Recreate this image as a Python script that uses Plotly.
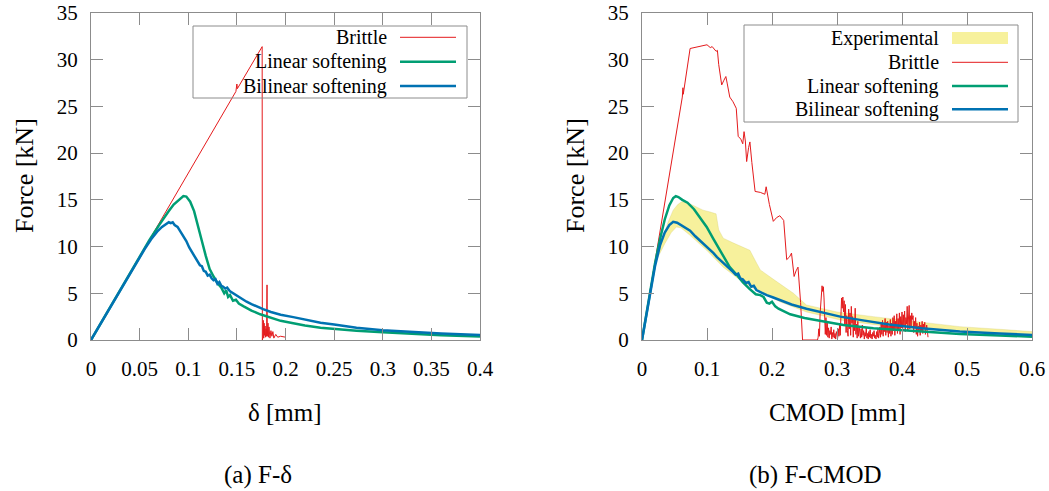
import plotly.graph_objects as go

# ---------------- data: (a) F-delta ----------------
delta_brittle = [0, 0.149, 0.150, 0.1505, 0.176, 0.1762, 0.1764, 0.1768, 0.1772, 0.1776, 0.178, 0.1785,
                 0.179, 0.1795, 0.180, 0.1805, 0.181, 0.1813, 0.182, 0.1825, 0.183, 0.184, 0.185, 0.186,
                 0.187, 0.188, 0.190, 0.192, 0.195, 0.200]
force_brittle_a = [0, 26.6, 27.4, 26.9, 31.4, 0.0, 2.6, 0.3, 2.1, 0.2, 1.8, 0.5,
                   1.5, 0.3, 1.2, 0.4, 5.9, 0.4, 1.8, 0.3, 1.4, 0.2, 1.0, 0.4,
                   0.9, 0.2, 0.6, 0.3, 0.4, 0.3]

delta_linear = [0, 0.06, 0.07, 0.075, 0.08, 0.085, 0.09, 0.095, 0.098, 0.102, 0.106, 0.11, 0.114,
                0.118, 0.122, 0.126, 0.13, 0.134, 0.137, 0.139, 0.141, 0.143, 0.146, 0.149, 0.152,
                0.157, 0.165, 0.174, 0.185, 0.195, 0.208, 0.22, 0.236, 0.25, 0.273, 0.3, 0.33, 0.36, 0.4]
force_linear_a = [0, 10.68, 12.3, 13.1, 13.8, 14.5, 15.0, 15.4, 15.35, 14.8, 13.8, 12.3, 10.6,
                  9.0, 7.6, 6.8, 6.1, 5.6, 5.0, 5.3, 4.6, 4.8, 4.2, 4.3, 3.9,
                  3.6, 3.15, 2.75, 2.35, 2.05, 1.8, 1.55, 1.3, 1.17, 1.0, 0.82, 0.66, 0.52, 0.38]

delta_bilinear = [0, 0.02, 0.04, 0.055, 0.062, 0.068, 0.073, 0.077, 0.080, 0.082, 0.084, 0.086, 0.089,
                  0.092, 0.095, 0.098, 0.101, 0.104, 0.107, 0.110, 0.112, 0.114, 0.116, 0.118, 0.120,
                  0.122, 0.124, 0.126, 0.128, 0.130, 0.132, 0.134, 0.136, 0.138, 0.140, 0.143, 0.146,
                  0.150, 0.155, 0.160, 0.165, 0.170, 0.177, 0.185, 0.195, 0.208, 0.22, 0.236, 0.25,
                  0.273, 0.3, 0.33, 0.36, 0.4]
force_bilinear_a = [0, 3.56, 7.12, 9.7, 10.8, 11.6, 12.1, 12.4, 12.6, 12.5, 12.6, 12.3, 12.1,
                    11.6, 11.1, 10.6, 9.9, 9.4, 8.8, 8.4, 8.0, 7.9, 7.4, 7.3, 6.9,
                    7.0, 6.6, 6.4, 6.5, 6.0, 6.2, 5.8, 5.7, 5.5, 5.6, 5.2, 5.0,
                    4.7, 4.4, 4.1, 3.85, 3.6, 3.3, 3.0, 2.7, 2.45, 2.2, 1.85, 1.65,
                    1.3, 1.05, 0.85, 0.7, 0.53]

# ---------------- data: (b) F-CMOD ----------------
cmod_exp_upper = [0.0226, 0.03, 0.04, 0.048, 0.055, 0.061, 0.07, 0.079, 0.094, 0.105, 0.114, 0.118,
                  0.125, 0.14, 0.155, 0.166, 0.175, 0.182, 0.2, 0.233, 0.253, 0.3, 0.356, 0.42,
                  0.489, 0.55, 0.6]
force_exp_upper = [8.6, 10.5, 12.6, 13.9, 14.5, 14.8, 14.7, 14.4, 13.9, 13.7, 13.5, 11.8,
                   10.9, 10.4, 9.9, 9.6, 8.4, 7.5, 6.6, 5.0, 3.75, 3.0, 2.5, 1.95,
                   1.43, 1.15, 0.9]
cmod_exp_lower = [0.0226, 0.035, 0.045, 0.053, 0.06, 0.074, 0.0995, 0.125, 0.151, 0.176, 0.212,
                  0.253, 0.305, 0.38, 0.489, 0.6]
force_exp_lower = [8.6, 10.3, 11.5, 12.1, 12.0, 11.2, 9.6, 7.8, 6.4, 5.35, 4.1,
                   3.0, 2.14, 1.43, 0.9, 0.53]

# brittle: peak and descending part
cmod_brittle_main = [0, 0.062, 0.063, 0.0635, 0.074, 0.08, 0.09, 0.1, 0.105, 0.108, 0.114, 0.116, 0.118,
                     0.1226, 0.126, 0.129, 0.131, 0.135, 0.14, 0.145, 0.148, 0.152, 0.155, 0.157, 0.159,
                     0.161, 0.164, 0.166, 0.169, 0.174, 0.182, 0.189, 0.191, 0.196, 0.202, 0.207, 0.212,
                     0.218, 0.2226, 0.227, 0.23, 0.234, 0.237, 0.24, 0.244, 0.247]
force_brittle_main = [0, 26.0, 27.0, 26.3, 31.2, 31.3, 31.4, 31.6, 31.3, 31.4, 30.9, 31.0, 29.5,
                      27.3, 27.8, 28.2, 27.5, 26.0, 25.5, 24.8, 21.8, 21.5, 21.0, 22.3, 21.3,
                      19.1, 20.6, 21.2, 19.0, 15.9, 15.8, 15.6, 16.4, 14.5, 12.7, 13.1, 13.3,
                      12.8, 8.6, 8.9, 9.3, 6.8, 7.4, 7.8, 4.0, 0.0]
# brittle: noisy tail
cmod_brittle_tail = [0.270, 0.271, 0.272, 0.273, 0.274, 0.275, 0.276, 0.277, 0.278, 0.279,
                     0.280, 0.281, 0.282, 0.283, 0.284, 0.285, 0.286, 0.287, 0.288, 0.289,
                     0.290, 0.291, 0.292, 0.293, 0.294, 0.295, 0.296, 0.297, 0.298, 0.299,
                     0.300, 0.301, 0.302, 0.303, 0.304, 0.305, 0.306, 0.307, 0.308, 0.309,
                     0.310, 0.311, 0.312, 0.313, 0.314, 0.315, 0.316, 0.317, 0.318, 0.319,
                     0.320, 0.321, 0.322, 0.323, 0.324, 0.325, 0.326, 0.327, 0.328, 0.329,
                     0.330, 0.331, 0.332, 0.333, 0.334, 0.335, 0.336, 0.337, 0.338, 0.339,
                     0.340, 0.341, 0.342, 0.343, 0.344, 0.345, 0.346, 0.347, 0.348, 0.349,
                     0.350, 0.351, 0.352, 0.353, 0.354, 0.355, 0.356, 0.357, 0.358, 0.359,
                     0.360, 0.361, 0.362, 0.363, 0.364, 0.365, 0.366, 0.367, 0.368, 0.369,
                     0.370, 0.371, 0.372, 0.373, 0.374, 0.375, 0.376, 0.377, 0.378, 0.379,
                     0.380, 0.381, 0.382, 0.383, 0.384, 0.385, 0.386, 0.387, 0.388, 0.389,
                     0.390, 0.391, 0.392, 0.393, 0.394, 0.395, 0.396, 0.397, 0.398, 0.399,
                     0.400, 0.401, 0.402, 0.403, 0.404, 0.405, 0.406, 0.407, 0.408, 0.409,
                     0.410, 0.411, 0.412, 0.413, 0.414, 0.415, 0.416, 0.417, 0.418, 0.419,
                     0.420, 0.421, 0.422, 0.423, 0.424, 0.425, 0.426, 0.427, 0.428, 0.429,
                     0.430, 0.431, 0.432, 0.433, 0.434, 0.435, 0.436, 0.437, 0.438, 0.439,
                     0.440]
force_brittle_tail = [0.0, 0.3, 1.2, 0.4, 2.8, 3.9,
                      4.8, 5.8, 5.2, 5.7, 4.5, 2.2, 0.6,
                      2.4, 0.5, 1.8, 0.3, 1.3, 0.2, 1.0, 0.6, 1.4, 0.1, 0.8, 0.3, 1.1, 0.2, 0.7, 0.1, 0.9, 0.3,
                      0.2, 1.2, 0.4, 1.6, 0.5, 2.5,
                      4.5, 3.4, 4.6, 3.0, 4.2, 1.5, 3.8, 0.8, 2.6, 1.0,
                      0.4, 3.3, 1.2, 2.9, 0.5, 3.6, 1.8, 2.5, 0.3, 2.2, 1.0, 3.4, 0.6, 1.7, 0.2, 2.0, 0.4, 1.5, 0.8,
                      0.2, 1.2, 0.3, 1.6, 0.5, 1.0, 0.1, 0.8, 0.4, 1.3, 0.2, 0.7, 0.1, 0.9, 0.3,
                      1.1, 0.2, 0.6, 0.1, 0.8, 0.4, 1.0, 0.2, 0.5, 0.1, 0.9, 0.3, 1.2, 0.2, 0.7,
                      1.4, 0.3, 1.8, 0.6, 2.1, 0.4, 1.6, 0.9, 2.3, 0.5, 1.9, 0.8, 2.0, 0.3, 1.5, 0.7, 2.2, 0.4,
                      1.8, 0.6, 2.4, 1.0, 2.6, 0.5, 2.0, 1.2, 2.8, 0.7, 2.3, 1.1, 2.9, 0.6, 2.5, 1.3, 3.0,
                      1.0, 2.7, 1.4, 3.1, 0.9, 2.4, 1.7, 3.6, 1.0, 2.8, 3.7, 1.2, 2.6, 1.5, 2.9, 2.2, 2.6, 0.8,
                      2.0, 1.4, 2.4, 0.6, 1.8, 0.4, 1.5, 0.9, 1.9, 0.5, 1.6, 1.0, 2.0, 0.7, 1.7, 1.2, 1.9, 0.6,
                      1.4, 1.6, 1.0, 0.3]

cmod_linear = [0, 0.01, 0.02, 0.028, 0.035, 0.042, 0.048, 0.052, 0.056, 0.062, 0.07, 0.08, 0.09,
               0.0995, 0.11, 0.125, 0.135, 0.146, 0.155, 0.165, 0.175, 0.182, 0.187, 0.192, 0.196,
               0.2, 0.205, 0.21, 0.218, 0.228, 0.25, 0.279, 0.31, 0.356, 0.42, 0.489, 0.55, 0.6]
force_linear_b = [0, 4.2, 8.2, 10.9, 12.9, 14.4, 15.2, 15.4, 15.3, 15.0, 14.7, 14.0, 13.0,
                  12.1, 10.8, 8.9, 7.8, 6.95, 6.2, 5.5, 4.9, 4.8, 4.6, 4.0, 3.9,
                  4.1, 3.6, 3.35, 3.1, 2.75, 2.35, 1.96, 1.6, 1.25, 0.92, 0.64, 0.48, 0.36]

cmod_bilinear = [0, 0.01, 0.02, 0.028, 0.035, 0.042, 0.048, 0.054, 0.06, 0.067, 0.074, 0.082, 0.09,
                 0.0995, 0.105, 0.11, 0.115, 0.12, 0.125, 0.13, 0.135, 0.14, 0.144, 0.148, 0.151,
                 0.155, 0.16, 0.164, 0.168, 0.172, 0.176, 0.185, 0.192, 0.202, 0.215, 0.23, 0.253,
                 0.28, 0.305, 0.34, 0.38, 0.43, 0.489, 0.55, 0.6]
force_bilinear_b = [0, 4.1, 7.9, 10.2, 11.5, 12.3, 12.65, 12.55, 12.3, 12.0, 11.7, 11.1, 10.6,
                    10.0, 9.7, 9.3, 8.9, 8.6, 8.2, 7.9, 7.6, 7.3, 7.0, 7.1, 6.6,
                    6.5, 6.1, 6.2, 5.7, 5.8, 5.35, 5.0, 4.8, 4.55, 4.2, 3.8, 3.35,
                    2.9, 2.5, 2.1, 1.65, 1.25, 0.9, 0.7, 0.53]

x_ticks_a = [0, 0.05, 0.1, 0.15, 0.2, 0.25, 0.3, 0.35, 0.4]
x_ticks_b = [0, 0.1, 0.2, 0.3, 0.4, 0.5, 0.6]
y_ticks = [0, 5, 10, 15, 20, 25, 30, 35]

# ---------------- style ----------------
W, H = 1049, 491
FONT = "Liberation Serif, Times New Roman, DejaVu Serif, serif"
RED, GREEN, BLUE = "#E41A1C", "#009E73", "#0072B2"
YELLOW = "rgba(240,228,66,0.52)"
GRAY = "#8c8c8c"


def px(x):
    return x / W


def py(y):
    return 1 - y / H


fig = go.Figure()

# (a)
fig.add_trace(go.Scatter(x=delta_brittle, y=force_brittle_a, mode="lines",
                         line=dict(color=RED, width=1), xaxis="x", yaxis="y", showlegend=False))
fig.add_trace(go.Scatter(x=delta_linear, y=force_linear_a, mode="lines",
                         line=dict(color=GREEN, width=2.5), xaxis="x", yaxis="y", showlegend=False))
fig.add_trace(go.Scatter(x=delta_bilinear, y=force_bilinear_a, mode="lines",
                         line=dict(color=BLUE, width=2.5), xaxis="x", yaxis="y", showlegend=False))

# (b)
band_x = cmod_exp_upper + cmod_exp_lower[::-1]
band_y = force_exp_upper + force_exp_lower[::-1]
fig.add_trace(go.Scatter(x=band_x, y=band_y, mode="lines", fill="toself", fillcolor=YELLOW,
                         line=dict(width=0.5, color="rgba(200,190,90,0.5)"),
                         xaxis="x2", yaxis="y2", showlegend=False))
fig.add_trace(go.Scatter(x=cmod_brittle_main + cmod_brittle_tail,
                         y=force_brittle_main + force_brittle_tail, mode="lines",
                         line=dict(color=RED, width=1), xaxis="x2", yaxis="y2", showlegend=False))
fig.add_trace(go.Scatter(x=cmod_linear, y=force_linear_b, mode="lines",
                         line=dict(color=GREEN, width=2.5), xaxis="x2", yaxis="y2", showlegend=False))
fig.add_trace(go.Scatter(x=cmod_bilinear, y=force_bilinear_b, mode="lines",
                         line=dict(color=BLUE, width=2.5), xaxis="x2", yaxis="y2", showlegend=False))

axis_common = dict(showgrid=False, zeroline=False, showline=True, linecolor=GRAY, linewidth=1,
                   ticks="inside", ticklen=12, tickcolor=GRAY, tickwidth=1, mirror="allticks",
                   tickfont=dict(family=FONT, size=21, color="black"), automargin=False)

y_domain = [py(340), py(13)]
fig.update_layout(
    width=W, height=H, margin=dict(l=0, r=0, t=0, b=0),
    paper_bgcolor="white", plot_bgcolor="white", showlegend=False,
    font=dict(family=FONT),
    xaxis=dict(domain=[px(91), px(480)], range=[0, 0.4], tickvals=x_ticks_a,
               ticktext=[f"{v:g}" for v in x_ticks_a], anchor="y", ticklabelstandoff=10, **axis_common),
    yaxis=dict(domain=y_domain, range=[0, 35.0001], tickvals=y_ticks, anchor="x",
               ticklabelstandoff=8, **axis_common),
    xaxis2=dict(domain=[px(642), px(1032)], range=[0, 0.6], tickvals=x_ticks_b,
                ticktext=[f"{v:g}" for v in x_ticks_b], anchor="y2", ticklabelstandoff=10, **axis_common),
    yaxis2=dict(domain=y_domain, range=[0, 35.0001], tickvals=y_ticks, anchor="x2",
                ticklabelstandoff=8, **axis_common),
)

ann = []
shapes = []


def text(x, y, s, size, xanchor="center", angle=0):
    ann.append(dict(x=px(x), y=py(y), xref="paper", yref="paper", text=s, showarrow=False,
                    xanchor=xanchor, yanchor="middle", textangle=angle,
                    font=dict(family=FONT, size=size, color="black")))


# axis titles and captions
text(25, 176, "Force [kN]", 26, angle=-90)
text(576, 176, "Force [kN]", 26, angle=-90)
text(285, 412, "δ [mm]", 25)
text(837, 412, "CMOD [mm]", 25)
text(258, 475, "(a) F-δ", 25)
text(815, 475, "(b) F-CMOD", 25)

# legend (a)
shapes.append(dict(type="rect", xref="paper", yref="paper", x0=px(193), x1=px(467), y0=py(98), y1=py(26),
                   line=dict(color=GRAY, width=1), fillcolor="rgba(0,0,0,0)", layer="above"))
rows_a = [("Brittle", RED, 1, 37.3), ("Linear softening", GREEN, 2.5, 61.7), ("Bilinear softening", BLUE, 2.5, 86)]
for name, col, w, yy in rows_a:
    text(389, yy, name, 20, xanchor="right")
    shapes.append(dict(type="line", xref="paper", yref="paper", x0=px(400), x1=px(456), y0=py(yy), y1=py(yy),
                       line=dict(color=col, width=w), layer="above"))

# legend (b)
shapes.append(dict(type="rect", xref="paper", yref="paper", x0=px(744), x1=px(1018), y0=py(122), y1=py(25),
                   line=dict(color=GRAY, width=1), fillcolor="rgba(0,0,0,0)", layer="above"))
text(941, 38.3, "Experimental", 20, xanchor="right")
shapes.append(dict(type="rect", xref="paper", yref="paper", x0=px(952), x1=px(1008), y0=py(44), y1=py(32),
                   line=dict(width=0), fillcolor=YELLOW, layer="above"))
rows_b = [("Brittle", RED, 1, 62.3), ("Linear softening", GREEN, 2.5, 86), ("Bilinear softening", BLUE, 2.5, 109.3)]
for name, col, w, yy in rows_b:
    text(941, yy, name, 20, xanchor="right")
    shapes.append(dict(type="line", xref="paper", yref="paper", x0=px(952), x1=px(1008), y0=py(yy), y1=py(yy),
                       line=dict(color=col, width=w), layer="above"))

fig.update_layout(annotations=ann, shapes=shapes)
fig.write_html("out.html", config={"displayModeBar": False},
               post_script=["document.body.style.margin='0';document.body.style.overflow='hidden';"])
